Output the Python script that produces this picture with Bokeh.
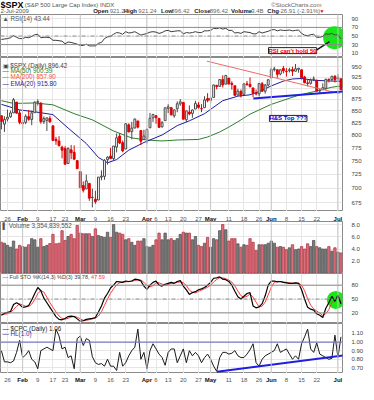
from bokeh.plotting import figure
from bokeh.models import Range1d, FixedTicker, Label, Span, ColumnDataSource, NumeralTickFormatter
from bokeh.layouts import column
from bokeh.embed import file_html
from bokeh.resources import INLINE
from bokeh.core.properties import value

FONT = "Liberation Sans"

# ---------------- data (trading-day index: 0 = 26-Jan-2009, 110 = 2-Jul-2009) ----------------
first_idx = -2
prev_close_start = 840.24

opens = [839.74, 822.16, 832.50, 837.30, 845.73, 868.89, 845.69,
         823.09, 825.69, 837.77, 831.75, 846.09,
         868.24, 866.87, 827.41, 829.91, 833.95,
         818.61, 791.06, 787.91, 775.87,
         773.25, 744.69, 770.64, 765.76, 749.93,
         729.57, 704.44, 698.60, 708.27, 684.04,
         680.76, 679.28, 719.59, 720.89, 751.97,
         758.84, 753.88, 776.01, 797.92, 784.58,
         772.31, 820.60, 806.81, 814.06, 828.68,
         809.07, 790.88, 793.59, 814.53, 835.13,
         839.75, 834.12, 816.76, 829.29,
         855.33, 856.88, 839.44, 854.54, 865.18,
         868.27, 831.25, 847.26, 844.62, 853.91,
         862.82, 854.48, 856.85, 876.59, 872.74,
         879.21, 906.10, 903.95, 919.58, 909.03,
         922.99, 910.52, 905.40, 884.24, 892.76,
         886.07, 909.67, 908.62, 900.42, 888.68,
         887.00, 909.95, 892.96, 907.02,
         923.26, 942.87, 942.51, 932.49, 945.67,
         938.12, 940.35, 942.73, 939.04, 943.44,
         942.45, 925.60, 911.89, 910.86, 919.96,
         918.13, 893.46, 896.31, 899.45, 920.00,
         919.86, 927.15, 920.82, 921.24]
highs = [839.74, 838.61, 852.53, 850.45, 877.86, 868.89, 851.66,
         830.78, 842.60, 851.85, 850.55, 870.75,
         875.01, 868.05, 838.22, 835.48, 839.43,
         818.61, 796.17, 797.58, 778.69,
         777.85, 775.49, 780.12, 779.42, 751.27,
         729.57, 711.67, 724.12, 708.27, 699.09,
         695.27, 719.60, 731.92, 752.63, 758.29,
         774.53, 778.12, 803.04, 803.24, 788.91,
         823.37, 823.65, 826.78, 832.98, 828.68,
         809.07, 810.48, 813.62, 845.61, 842.50,
         839.75, 834.12, 828.42, 856.91,
         864.31, 856.88, 852.93, 870.35, 875.63,
         868.27, 850.09, 861.78, 852.87, 871.80,
         868.83, 864.48, 882.06, 888.70, 880.48,
         907.85, 907.70, 920.28, 929.58, 930.17,
         922.99, 915.57, 905.40, 898.36, 896.97,
         910.00, 916.39, 924.60, 900.42, 896.65,
         911.76, 913.84, 909.45, 920.02,
         947.77, 949.38, 942.51, 942.47, 951.69,
         946.33, 946.92, 949.77, 956.23, 946.30,
         942.45, 928.00, 918.44, 921.93, 927.09,
         918.13, 898.69, 910.85, 921.42, 922.00,
         927.99, 930.01, 931.92, 921.24]
lows = [811.29, 806.07, 827.69, 835.40, 845.73, 844.15, 821.67,
        812.87, 821.98, 829.18, 819.91, 845.42,
        861.65, 822.99, 822.30, 808.06, 825.21,
        789.17, 780.43, 777.03, 754.25,
        742.37, 744.69, 752.89, 751.75, 734.52,
        699.70, 692.30, 698.60, 677.93, 666.79,
        672.88, 679.28, 713.85, 714.76, 742.46,
        753.37, 749.93, 765.64, 781.82, 765.93,
        772.31, 805.48, 791.37, 814.06, 813.43,
        779.81, 790.88, 783.32, 814.53, 826.70,
        822.79, 814.53, 814.84, 829.29,
        845.35, 840.25, 835.58, 847.04, 860.87,
        832.39, 826.83, 840.57, 835.45, 853.91,
        854.65, 847.12, 856.85, 868.51, 866.10,
        879.21, 897.34, 903.95, 901.36, 909.03,
        908.68, 896.46, 882.27, 882.52, 878.94,
        886.07, 905.22, 901.37, 879.61, 883.75,
        881.46, 891.87, 887.60, 903.56,
        923.26, 938.46, 923.85, 929.32, 934.13,
        926.44, 936.15, 927.97, 939.04, 935.66,
        919.65, 911.60, 903.78, 907.94, 915.80,
        893.04, 888.86, 896.31, 896.27, 913.03,
        916.18, 912.86, 920.82, 896.42]
closes = [827.50, 831.95, 836.57, 845.71, 874.09, 845.14, 825.88,
          825.44, 838.51, 832.23, 845.85, 868.60,
          869.89, 827.16, 833.74, 835.19, 826.84,
          789.17, 788.42, 778.94, 770.05,
          743.33, 773.14, 764.90, 752.83, 735.09,
          700.82, 696.33, 712.87, 682.55, 683.38,
          676.53, 719.60, 721.36, 750.74, 756.55,
          753.89, 778.12, 794.35, 784.04, 768.54,
          822.92, 806.12, 813.88, 832.86, 815.94,
          787.53, 797.87, 811.08, 834.38, 842.50,
          835.48, 815.55, 825.16, 856.56,
          858.73, 841.50, 852.06, 865.30, 869.60,
          832.39, 850.08, 843.55, 851.92, 866.23,
          857.51, 855.16, 873.64, 872.81, 877.52,
          907.24, 903.80, 919.53, 907.39, 929.23,
          909.24, 908.35, 883.92, 893.07, 882.88,
          909.71, 908.13, 903.47, 888.33, 887.00,
          910.33, 893.06, 906.83, 919.14,
          942.87, 944.74, 931.76, 942.46, 940.09,
          939.14, 942.43, 939.15, 944.89, 946.21,
          923.72, 911.97, 910.71, 918.37, 921.23,
          893.04, 895.10, 900.94, 920.26, 918.90,
          927.23, 919.32, 923.33, 896.42]
# volume in billions
volumes = [5.1, 4.95, 4.6, 4.3, 5.3, 4.0, 4.6, 4.4, 4.3, 4.7, 5.7, 5.5, 4.3, 5.7, 4.4, 4.6,
           4.9, 6.4, 4.85, 4.95, 7.0, 5.4, 6.05, 6.4, 5.7, 7.85, 6.6, 6.5, 6.5, 6.5, 6.05,
           7.3, 6.2, 6.05, 5.9, 6.75, 5.9, 8.0, 6.75, 6.6, 6.4, 5.5, 5.7, 5.1, 4.6, 5.3,
           5.3, 5.7, 4.4, 4.3, 4.6, 5.5, 6.6, 5.5, 6.6, 5.5, 5.7,
           5.4, 5.7, 6.4, 6.75, 6.6, 6.6, 5.5, 6.05, 4.6, 4.4, 4.95, 5.9, 4.3, 5.7, 5.5,
           7.0, 8.0, 7.15, 5.3, 5.7, 5.7, 4.85, 4.3, 4.7, 4.6, 5.7, 5.1, 3.75, 4.7, 4.7,
           4.7, 4.95, 5.3, 4.95, 4.3, 4.4, 4.3, 3.9, 4.2, 4.7, 3.9, 4.0, 4.4, 4.0, 4.85,
           4.4, 5.4, 4.4, 4.2, 4.0, 4.0, 4.4, 3.65, 4.2, 3.5, 3.35]
rsi = [42, 43, 44, 46, 51, 47, 44,
       44, 47, 46, 49, 53,
       54, 46, 47, 47, 46,
       40, 40, 39, 38,
       32, 36, 35, 33, 31,
       28, 28, 31, 27, 27,
       27, 33, 35, 44, 48,
       49, 54, 58, 57, 54,
       60, 57, 58, 60, 56,
       52, 54, 56, 59, 60,
       59, 56, 58, 62,
       63, 60, 61, 62, 62,
       55, 58, 57, 58, 60,
       58, 58, 62, 62, 63,
       68, 67, 69, 66, 68,
       63, 63, 57, 58, 56,
       60, 59, 58, 55, 55,
       60, 57, 59, 61,
       64, 65, 62, 64, 63,
       63, 64, 62, 63, 64,
       56, 52, 51, 53, 54,
       47, 47, 49, 55, 54,
       56, 52, 53, 43.44]
sto_k = [15, 19, 21, 23, 38, 42, 38,
         32, 33, 36, 48, 62,
         75, 68, 52, 42, 32,
         22, 12, 6, 5,
         8, 12, 13, 12, 7,
         2, 3, 6, 7, 8,
         10, 22, 35, 52, 62,
         74, 80, 88, 87, 86,
         89, 88, 89, 93, 92,
         89, 78, 71, 80, 86,
         89, 80, 78, 82,
         84, 86, 84, 88, 90,
         78, 70, 60, 64, 66,
         70, 72, 75, 80, 86,
         95, 96, 98, 93, 92,
         88, 80, 67, 55, 50,
         56, 62, 64, 35, 31,
         33, 40, 57, 80,
         89, 89, 87, 88, 86,
         85, 84, 84, 85, 84,
         70, 50, 32, 28, 26,
         18, 15, 10, 30, 42,
         56, 45, 58, 39.78]
sto_d = [16, 17, 18.3, 21, 27.3, 34.3, 39.3,
         37.3, 34.3, 33.7, 39, 48.7,
         61.7, 68.3, 65, 54, 42,
         32, 22, 13.3, 7.7,
         6.3, 8.3, 11, 12.3, 10.7,
         7, 4, 3.7, 5.3, 7,
         8.3, 13.3, 22.3, 36.3, 49.7,
         62.7, 72, 80.7, 85, 87,
         87.3, 87.7, 88.7, 90, 91.3,
         91.3, 86.3, 79.3, 76.3, 79,
         85, 85, 82.3, 80,
         81.3, 84, 84.7, 86, 87.3,
         85.3, 79.3, 69.3, 64.7, 63.3,
         66.7, 69.3, 72.3, 75.7, 80.3,
         87, 92.3, 96.3, 95.7, 94.3,
         91, 86.7, 78.3, 67.3, 57.3,
         53.7, 56, 60.7, 53.7, 43.3,
         33, 34.7, 43.3, 59,
         75.3, 86, 88.3, 88, 87,
         86.3, 85, 84.3, 84.3, 84.3,
         79.7, 68, 50.7, 36.7, 28.7,
         24, 19.7, 14.3, 18.3, 27.3,
         42.7, 47.7, 53, 47.59]
cpc = [0.90, 0.77, 0.77, 0.76, 0.78, 0.88, 1.02,
       0.82, 0.85, 0.90, 0.80, 0.77,
       0.69, 0.90, 0.92, 0.94, 0.92,
       0.90, 1.15, 1.07, 0.92,
       0.94, 0.82, 0.84, 0.69, 1.04,
       1.07, 0.96, 1.04, 1.02, 0.83,
       0.76, 0.74, 0.75, 0.72, 0.80,
       0.72, 0.72, 0.67, 0.88, 0.72,
       0.76, 0.84, 0.90, 0.94, 1.15,
       0.80, 0.88, 0.69, 0.90, 0.98,
       0.92, 0.86, 0.82, 0.73,
       0.88, 0.92, 0.92, 0.76, 0.84,
       0.92, 0.76, 0.90, 0.84, 0.88,
       0.84, 0.76, 0.82, 0.86, 0.80,
       0.72, 0.66, 0.82, 0.88, 0.88,
       0.86, 0.87, 0.90, 0.84, 0.82,
       0.82, 0.86, 0.91, 0.98, 0.76,
       0.72, 0.80, 0.84, 0.86,
       0.88, 0.90, 0.98, 0.88, 0.90,
       0.92, 0.86, 0.80, 0.84, 0.80,
       0.98, 1.06, 1.15, 0.92, 0.88,
       0.99, 0.86, 0.84, 0.82, 0.80,
       0.81, 1.08, 0.82, 1.06]

ema20_idx = [-2, 4, 9, 15, 20, 26, 30, 33, 36, 40, 45, 51, 56, 60, 65, 71, 76, 80, 83, 87, 91, 94, 97, 101, 107, 110]
ema20_val = [864, 852, 848, 842, 814, 783, 756, 746, 752, 770, 785, 800, 819, 829, 844, 872, 882, 885, 892, 905, 916, 921, 922, 918, 916, 915.8]
ma50_idx = [-2, 2, 9, 15, 22, 28, 35, 41, 46, 51, 56, 63, 66, 70, 73, 76, 80, 87, 96, 101, 107, 110]
ma50_val = [872, 866, 867, 863, 844, 831, 808, 794, 790, 788, 790, 791, 796, 806, 816, 827, 843, 864, 884, 892, 902, 905]

tick_idx = [0, 5, 10, 15, 19, 24, 29, 34, 39, 46, 49, 53, 58, 63, 67, 73, 78, 83, 87, 92, 97, 102, 109]
tick_text = ["26", "Feb", "9", "17", "23", "Mar", "9", "16", "23", "Apr", "6", "13", "20", "27",
             "May", "11", "18", "26", "Jun", "8", "15", "22", "Jul"]
month_idx = [5, 24, 46, 67, 87, 109]

price_ticks = [675, 700, 725, 750, 775, 800, 825, 850, 875, 900, 925, 950]
rsi_ticks = [10, 30, 50, 70, 90]
vol_ticks = [2, 4, 6, 8]
sto_ticks = [20, 50, 80]
cpc_ticks = [0.7, 0.8, 0.9, 1.0, 1.1]

# annotation lines (drawn on the chart by its author)
red_trend_idx = [65.8, 109.6]
red_trend_val = [963, 887.5]
neck_idx = [81.1, 118.0]
neck_val = [876.6, 896.3]
cpc_trend_idx = [69.1, 118.4]
cpc_trend_val = [0.655, 0.879]
rsi_arrow_idx = [101.9, 106.2]
rsi_arrow_val = [17, 37]

# ---------------- layout ----------------
FW = 342
RB = 16
X0, X1 = -2.3, 110.5
PX = FW / (X1 - X0)
x_rng = Range1d(X0, X1)

days = list(range(first_idx, first_idx + len(closes)))
prev = [prev_close_start] + closes[:-1]
up = [c >= pc for c, pc in zip(closes, prev)]
cand_col = ["#4A4A4A" if u else "#E00000" for u in up]
cand_fill = [col if c < o else "white" for col, c, o in zip(cand_col, closes, opens)]
vol_fill = ["#7C7C7C" if u else "#D9707A" for u in up]
vol_line = ["#555555" if u else "#B83848" for u in up]


def make_panel(h, y0, y1, ticks, fmt, y_type="linear"):
    p = figure(frame_width=FW, frame_height=h, x_range=x_rng, y_range=Range1d(y0, y1),
               y_axis_type=y_type, x_axis_location=None, y_axis_location="right",
               toolbar_location=None, output_backend="svg",
               min_border_left=0, min_border_right=RB, min_border_top=0, min_border_bottom=0)
    p.outline_line_color = "#8A8A8A"
    ax = p.yaxis[0]
    ax.ticker = FixedTicker(ticks=ticks)
    ax.formatter = NumeralTickFormatter(format=fmt)
    ax.axis_line_color = None
    ax.major_tick_line_color = None
    ax.minor_tick_line_color = None
    ax.major_label_text_font = FONT
    ax.major_label_text_font_size = "6px"
    ax.major_label_text_color = "#444444"
    ax.major_label_standoff = 3
    p.xgrid.ticker = FixedTicker(ticks=tick_idx)
    p.xgrid.grid_line_color = "#E6E6E6"
    p.ygrid.grid_line_color = "#E6E6E6"
    for m in month_idx:
        p.add_layout(Span(location=m, dimension="height", line_color="#C8C8C8", line_width=1))
    return p


def legend(p, x, y, text, color, size="6.3px", style="normal"):
    p.add_layout(Label(x=x, y=y, x_units="screen", y_units="screen", text=text,
                       text_font=FONT, text_font_size=size, text_color=color,
                       text_baseline="middle", text_font_style=style))


# header
hdr = figure(width=358, height=14, x_range=Range1d(0, 358), y_range=Range1d(0, 14),
             x_axis_location=None, y_axis_location=None, toolbar_location=None,
             output_backend="svg", min_border=0, outline_line_color=None)
hdr.grid.visible = False
hdr.text(x=[0], y=[9.3], text=["$SPX"], text_font=value(FONT), text_font_size=value("9px"),
         text_font_style="bold", text_color="#000000", text_baseline="middle")
hdr.text(x=[26], y=[9.3], text=["(S&P 500 Large Cap Index) INDX"], text_font=value(FONT),
         text_font_size=value("6px"), text_color="#555555", text_baseline="middle")
hdr.text(x=[344], y=[9.3], text=["\u00a9StockCharts.com"], text_font=value(FONT),
         text_font_size=value("6px"), text_color="#666666", text_baseline="middle", text_align="right")
hdr.text(x=[0], y=[3.3], text=["2-Jul-2009"], text_font=value(FONT),
         text_font_size=value("6px"), text_color="#555555", text_baseline="middle")
hdr_bold_x = [99.3, 132, 172, 207.7, 247, 286]
hdr_bold_t = ["Open", "High", "Low", "Close", "Volume", "Chg"]
hdr_val_x = [117, 147.7, 183, 224.3, 268.7, 298]
hdr_val_t = ["921.24", "921.24", "896.42", "896.42", "3.4B", "-26.91 (-2.91%)"]
hdr.text(x=hdr_bold_x, y=[3.3] * 6, text=hdr_bold_t, text_font=value(FONT),
         text_font_size=value("6px"), text_font_style="bold", text_color="#222222", text_baseline="middle")
hdr.text(x=hdr_val_x, y=[3.3] * 6, text=hdr_val_t, text_font=value(FONT),
         text_font_size=value("6px"), text_color="#666666", text_baseline="middle")
hdr.text(x=[342], y=[3.3], text=["\u25bc"], text_font=value(FONT),
         text_font_size=value("5px"), text_color="#E00000", text_baseline="middle")

# RSI panel
p_rsi = make_panel(43, 0, 100, rsi_ticks, "0")
p_rsi.scatter(x=[107.9], y=[46], size=23, marker="circle", fill_color="#19E619", line_color=None)
for lv in (70, 30):
    p_rsi.add_layout(Span(location=lv, dimension="width", line_color="#8C8C8C", line_width=1))
p_rsi.add_layout(Span(location=50, dimension="width", line_color="#8C8C8C", line_width=1, line_dash="4 2 1 2"))
p_rsi.line(days, rsi, line_color="#3C3C3C", line_width=1)
p_rsi.line(rsi_arrow_idx, rsi_arrow_val, line_color="#111111", line_width=1.4)
p_rsi.add_layout(Label(x=86.1, y=16, text="RSI can't hold 50", text_font=FONT, text_font_size="6px",
                       text_font_style="bold", text_color="#EE0000", text_baseline="middle",
                       background_fill_color="white", border_line_color="#222222", border_line_width=1))
legend(p_rsi, 2, 39, "\u25b2 RSI(14) 43.44", "#555555")

# price panel
p_pr = make_panel(154, 660, 972, price_ticks, "0", y_type="log")
src = ColumnDataSource(dict(x=days, o=opens, h=highs, l=lows, c=closes,
                            top=[max(a, b) for a, b in zip(opens, closes)],
                            bot=[min(a, b) for a, b in zip(opens, closes)],
                            col=cand_col, fill=cand_fill))
p_pr.line(ma50_idx, ma50_val, line_color="#2E7D2E", line_width=1)
p_pr.line(ema20_idx, ema20_val, line_color="#1C1CA0", line_width=1)
p_pr.segment(x0="x", y0="l", x1="x", y1="h", line_color="col", line_width=1, source=src)
p_pr.vbar(x="x", top="top", bottom="bot", width=0.62, fill_color="fill", line_color="col",
          line_width=1, source=src)
p_pr.line(red_trend_idx, red_trend_val, line_color="#F06A6A", line_width=1)
p_pr.line(neck_idx, neck_val, line_color="#1E1EE0", line_width=2)
p_pr.add_layout(Label(x=86.4, y=834, text="H&S Top ???", text_font=FONT, text_font_size="6px",
                      text_font_style="bold", text_color="#0000CC", text_baseline="middle",
                      background_fill_color="white", border_line_color="#222222", border_line_width=1))
legend(p_pr, 2, 146.3, "\u25a3 $SPX (Daily) 896.42", "#444444")
legend(p_pr, 2, 140.7, "\u2014 MA(50) 900.39", "#2E7D2E")
legend(p_pr, 2, 134.7, "\u2014 MA(200) 857.90", "#F05050")
legend(p_pr, 2, 128.3, "\u2014 EMA(20) 915.80", "#22229A")


def date_fig(h):
    d = figure(frame_width=358, frame_height=h, x_range=Range1d(X0, X0 + 358 / PX),
               y_range=Range1d(0, 1), x_axis_location=None, y_axis_location=None,
               toolbar_location=None, output_backend="svg", min_border=0, outline_line_color=None)
    d.grid.visible = False
    is_month = [t[0].isalpha() for t in tick_text]
    ds = ColumnDataSource(dict(x=tick_idx, y=[0.5] * len(tick_idx), t=tick_text,
                               lab_style=["bold" if m else "normal" for m in is_month],
                               lab_color=["#111111" if m else "#555555" for m in is_month]))
    d.text(x="x", y="y", text="t", text_font_style="lab_style", text_color="lab_color",
           text_font=value(FONT), text_font_size=value("6px"), text_align="center",
           text_baseline="middle", source=ds)
    return d


d1 = date_fig(10)

# volume panel
p_vol = make_panel(52, 0, 8.5, vol_ticks, "0.0")
p_vol.vbar(x=days, top=volumes, bottom=0, width=0.78, fill_color=vol_fill, line_color=vol_line, line_width=0.8)
legend(p_vol, 2, 48, "\u258c Volume 3,354,839,552", "#555555")

# STO panel
p_sto = make_panel(50, -3, 105.3, sto_ticks, "0")
p_sto.scatter(x=[108.3], y=[48], size=18, marker="circle", fill_color="#19E619", line_color=None)
for lv in (80, 20):
    p_sto.add_layout(Span(location=lv, dimension="width", line_color="#8C8C8C", line_width=1))
p_sto.add_layout(Span(location=50, dimension="width", line_color="#8C8C8C", line_width=1, line_dash="4 2 1 2"))
p_sto.line(days, sto_d, line_color="#FF3A3A", line_width=1)
p_sto.line(days, sto_k, line_color="#000000", line_width=1.2)
legend(p_sto, 2, 46.5, "\u2014 Full STO %K(14,3) %D(3) 39.78,", "#444444", size="5.5px")
legend(p_sto, 90.6, 46.5, "47.59", "#FF3A3A", size="5.5px")

# CPC panel
p_cpc = make_panel(50, 0.635, 1.215, cpc_ticks, "0.00")
p_cpc.add_layout(Span(location=1.0, dimension="width", line_color="#7B7BC0", line_width=1.2))
p_cpc.line(days, cpc, line_color="#1A1A1A", line_width=1)
p_cpc.line(cpc_trend_idx, cpc_trend_val, line_color="#1E1EE0", line_width=2)
legend(p_cpc, 2, 45.5, "\u2014 $CPC (Daily) 1.06", "#222222")
legend(p_cpc, 2, 40, "\u2014 HL(1.0)", "#3333AA")

d2 = date_fig(11)

layout = column(hdr, p_rsi, p_pr, d1, p_vol, p_sto, p_cpc, d2, spacing=0)
open("out.html", "w").write(file_html(layout, INLINE))
